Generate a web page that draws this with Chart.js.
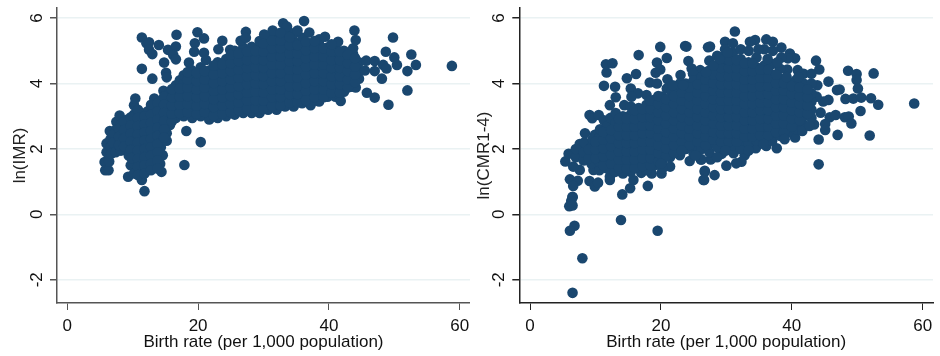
<!DOCTYPE html>
<html>
<head>
<meta charset="utf-8">
<script src="https://cdn.jsdelivr.net/npm/chart.js@4"></script>
<style>
  html, body { margin: 0; padding: 0; background: #fff; }
  canvas { position: absolute; top: 0; }
</style>
</head>
<body>
<canvas id="imrChart" width="470" height="356" style="left:0"></canvas>
<canvas id="cmrChart" width="470" height="356" style="left:470px"></canvas>
<script>
const xTicks = [0, 20, 40, 60];
const yTicks = [-2, 0, 2, 4, 6];

// [birth rate, ln(IMR)]
const imrPoints = [
  [5.7,1.6],[5.8,1.35],[6.3,1.35],[6.4,1.62],[6,2.17],[6,1.9],[6.5,2.55],[6.6,2.3],[6.6,2.05],[6.7,1.85],
  [7.5,2.83],[7.5,2.6],[7.4,2.35],[7.5,2.1],[7.4,1.9],[8,3.02],[8.2,2.75],[8.2,2.5],[8.3,2.25],[8.2,1.95],
  [9.2,2.9],[9.2,2.65],[9.1,2.4],[9.3,2.15],[9.4,1.8],[9.3,1.15],[9.7,1.5],[10.2,3.34],[10.4,3.54],[10.2,3.05],
  [10.2,2.8],[10.2,2.55],[10.2,2.3],[10.2,2.05],[10.2,1.8],[10.2,1.55],[10.2,1.25],[11.3,3.1],[11.3,2.85],[11.3,2.6],
  [11.3,2.35],[11.3,2.1],[11.3,1.85],[11.3,1.6],[11.3,1.35],[11.4,1.05],[11.8,0.71],[12.3,3.15],[12.3,2.9],[12.3,2.65],
  [12.3,2.4],[12.3,2.15],[12.3,1.9],[12.3,1.65],[12.3,1.4],[13.3,3.54],[13.3,3.25],[13.3,3],[13.3,2.75],[13.3,2.5],
  [13.3,2.25],[13.3,2],[13.3,1.75],[13.3,1.5],[14.4,3.3],[14.3,3.05],[14.3,2.8],[14.3,2.55],[14.3,2.3],[14.3,2.05],
  [14.6,1.81],[14.2,1.55],[14.4,1.3],[14.7,3.78],[15.2,2.48],[15.2,2.25],[15.7,2.73],[15.3,2.95],[15.3,3.2],[15.3,3.45],
  [15.6,3.7],[16.6,2.95],[16.6,3.2],[16.6,3.45],[16.6,3.7],[16.6,3.95],[17.2,4.1],[17.8,3],[17.8,3.25],[17.8,3.5],
  [17.8,3.75],[17.8,4],[17.8,4.25],[19.1,2.95],[19.1,3.15],[19.1,3.4],[19.1,3.65],[19.1,3.9],[19.1,4.15],[19,4.41],
  [20.4,3],[20.4,3.25],[20.4,3.5],[20.4,3.75],[20.4,4],[20.4,4.25],[20.4,4.5],[21.7,2.9],[21.7,3.15],[21.7,3.4],
  [21.7,3.65],[21.7,3.9],[21.7,4.15],[21.7,4.4],[23,2.95],[23,3.2],[23,3.45],[23,3.7],[23,3.95],[23,4.2],
  [23,4.45],[23,4.65],[24.3,3],[24.3,3.25],[24.3,3.5],[24.3,3.75],[24.3,4],[24.3,4.25],[24.3,4.5],[24.3,4.75],
  [25.6,3.05],[25.6,3.3],[25.6,3.55],[25.6,3.8],[25.6,4.05],[25.6,4.3],[25.6,4.55],[25.6,4.8],[25.6,5],[26.9,3.1],
  [26.9,3.35],[26.9,3.6],[26.9,3.85],[26.9,4.1],[26.9,4.35],[26.9,4.6],[26.9,4.85],[26.9,5.1],[28.2,3.1],[28.2,3.38],
  [28.2,3.62],[28.2,3.88],[28.2,4.12],[28.2,4.38],[28.2,4.62],[28.2,4.88],[28.2,5.12],[29.4,3.1],[29.4,3.35],[29.4,3.6],
  [29.4,3.85],[29.4,4.1],[29.4,4.35],[29.4,4.6],[29.4,4.85],[29.4,5.1],[29.4,5.3],[30.7,3.2],[30.7,3.45],[30.7,3.7],
  [30.7,3.95],[30.7,4.2],[30.7,4.45],[30.7,4.7],[30.7,4.95],[30.7,5.2],[30.5,5.45],[32,3.2],[32,3.45],[32,3.7],
  [32,3.95],[32,4.2],[32,4.45],[32,4.7],[32,4.95],[32,5.2],[32,5.45],[31.4,5.62],[33.3,3.3],[33.3,3.55],
  [33.3,3.8],[33.3,4.05],[33.3,4.3],[33.3,4.55],[33.3,4.8],[33.3,5.05],[33.3,5.3],[33.5,5.6],[33,5.84],[33.6,5.74],
  [34.6,3.3],[34.6,3.55],[34.6,3.8],[34.6,4.05],[34.6,4.3],[34.6,4.55],[34.6,4.8],[34.6,5.05],[34.6,5.3],[34.8,5.55],
  [35.9,3.4],[35.9,3.65],[35.9,3.9],[35.9,4.15],[35.9,4.4],[35.9,4.65],[35.9,4.9],[35.9,5.15],[36,5.4],[36.2,5.91],
  [37.2,3.34],[37.2,3.65],[37.2,3.9],[37.2,4.15],[37.2,4.4],[37.2,4.65],[37.2,4.9],[37.2,5.15],[37,5.56],[38.5,3.45],
  [38.5,3.7],[38.5,3.95],[38.5,4.2],[38.5,4.45],[38.5,4.7],[38.5,4.95],[38.5,5.2],[38.5,5.35],[39.8,3.6],[39.8,3.85],
  [39.8,4.1],[39.8,4.35],[39.8,4.6],[39.8,4.85],[39.8,5.1],[39.4,5.43],[41,3.6],[41.8,3.47],[41,3.85],[41,4.1],
  [41,4.35],[41,4.6],[41,4.85],[41,5.1],[41.4,5.28],[42.3,3.75],[42.3,4],[42.3,4.25],[42.3,4.5],[42.3,4.75],
  [42.3,5],[43.5,3.9],[43.5,4.15],[43.5,4.4],[43.5,4.65],[43.7,4.9],[43.7,5.08],[43.9,5.62],[44.1,5.33],[44.6,4.15],
  [44.6,4.4],[44.6,4.65],[44.1,3.88],[45.7,4.7],[45.5,4.4],[45.8,3.72],[47,4.69],[47,4.38],[47,3.57],[48.3,4.57],
  [48.1,4.15],[48.7,4.97],[48.8,4.46],[49.1,3.35],[49.8,5.41],[50,4.8],[50.4,4.57],[52,4.38],[52,3.79],[52.6,4.89],
  [53.3,4.57],[58.8,4.54],[18.2,2.55],[20.4,2.21],[17.9,1.51],[11.4,5.41],[12.1,5.23],[12.5,5.26],[12.5,5.03],[13,4.9],
  [14,5.18],[16.7,5.49],[15.4,5.03],[16.6,5.13],[16.2,4.87],[16.6,4.74],[14.8,4.64],[11.4,4.45],[13,4.15],[15.1,4.33],
  [15.2,4.19],[19.9,5.57],[20.9,5.38],[19.5,5.23],[19.4,4.97],[20.9,4.94],[21.2,4.72],[18.6,4.64],[23.7,5.31],[23.1,5.05],
  [27.3,5.58],[26.5,5.31],[24.9,5.03],[27.3,5.4],[30.1,5.5],
  // dots filling the solid part of the band
  [7,2.45],[7,2.2],[7.9,2.62],[7.9,2.37],[7.9,2.12],[8.7,2.83],[8.7,2.58],[8.7,2.33],[8.7,2.08],[9.7,2.97],
  [9.7,2.72],[9.7,2.47],[9.7,2.22],[9.7,1.97],[9.8,1.72],[10.8,3.2],[10.8,2.95],[10.8,2.7],[10.8,2.45],[10.8,2.2],
  [10.8,1.95],[10.8,1.7],[10.8,1.45],[10.8,1.2],[11.8,3],[11.8,2.75],[11.8,2.5],[11.8,2.25],[11.8,2],[11.8,1.75],
  [11.8,1.5],[11.8,1.25],[12.8,3.35],[12.8,3.05],[12.8,2.8],[12.8,2.55],[12.8,2.3],[12.8,2.05],[12.8,1.8],[12.8,1.55],
  [12.8,1.35],[13.8,3.4],[13.8,3.15],[13.8,2.9],[13.8,2.65],[13.8,2.4],[13.8,2.15],[13.8,1.9],[13.8,1.65],[13.8,1.4],
  [14.8,3.6],[14.8,3.35],[14.8,3.1],[14.8,2.85],[14.8,2.6],[14.8,2.35],[16,2.85],[16,3.08],[16,3.33],[16,3.58],
  [16,3.83],[17.2,3.1],[17.2,3.35],[17.2,3.6],[17.2,3.85],[18.4,3.12],[18.4,3.38],[18.4,3.62],[18.4,3.88],[18.4,4.12],
  [18.4,4.35],[19.8,3.08],[19.8,3.32],[19.8,3.58],[19.8,3.82],[19.8,4.08],[19.8,4.32],[21,3.12],[21,3.38],[21,3.62],
  [21,3.88],[21,4.12],[21,4.38],[22.4,3.02],[22.4,3.28],[22.4,3.52],[22.4,3.78],[22.4,4.02],[22.4,4.28],[22.4,4.55],
  [23.7,3.08],[23.7,3.32],[23.7,3.58],[23.7,3.82],[23.7,4.08],[23.7,4.32],[23.7,4.58],[25,3.12],[25,3.38],[25,3.62],
  [25,3.88],[25,4.12],[25,4.38],[25,4.62],[25,4.88],[26.2,3.18],[26.2,3.42],[26.2,3.68],[26.2,3.92],[26.2,4.18],
  [26.2,4.42],[26.2,4.68],[26.2,4.92],[27.5,3.22],[27.5,3.48],[27.5,3.72],[27.5,3.98],[27.5,4.22],[27.5,4.48],[27.5,4.72],
  [27.5,4.98],[28.8,3.25],[28.8,3.5],[28.8,3.75],[28.8,4],[28.8,4.25],[28.8,4.5],[28.8,4.75],[28.8,5],[30,3.22],
  [30,3.48],[30,3.72],[30,3.98],[30,4.22],[30,4.48],[30,4.72],[30,4.98],[30,5.22],[31.3,3.32],[31.3,3.58],
  [31.3,3.82],[31.3,4.08],[31.3,4.32],[31.3,4.58],[31.3,4.82],[31.3,5.08],[31.3,5.32],[32.6,3.32],[32.6,3.58],[32.6,3.82],
  [32.6,4.08],[32.6,4.32],[32.6,4.58],[32.6,4.82],[32.6,5.08],[32.6,5.32],[32.6,5.55],[34,3.42],[34,3.68],[34,3.92],
  [34,4.18],[34,4.42],[34,4.68],[34,4.92],[34,5.18],[34,5.42],[35.2,3.42],[35.2,3.68],[35.2,3.92],[35.2,4.18],
  [35.2,4.42],[35.2,4.68],[35.2,4.92],[35.2,5.18],[35.2,5.62],[36.5,3.5],[36.5,3.78],[36.5,4.02],[36.5,4.28],[36.5,4.52],
  [36.5,4.78],[36.5,5.02],[36.5,5.28],[37.8,3.58],[37.8,3.82],[37.8,4.08],[37.8,4.32],[37.8,4.58],[37.8,4.82],[37.8,5.08],
  [37.8,5.3],[39.2,3.58],[39.2,3.82],[39.2,4.08],[39.2,4.32],[39.2,4.58],[39.2,4.82],[39.2,5.08],[40.4,3.72],[40.4,3.98],
  [40.4,4.22],[40.4,4.48],[40.4,4.72],[40.4,4.98],[40.4,5.2],[41.7,3.72],[41.7,3.98],[41.7,4.22],[41.7,4.48],[41.7,4.72],
  [41.7,4.98],[42.9,3.88],[42.9,4.12],[42.9,4.38],[42.9,4.62],[42.9,4.88],[44,4.05],[44,4.28],[44,4.52],[44,4.78]
];

// [birth rate, ln(CMR1-4)]
const cmrPoints = [
  [5.4,1.62],[5.9,1.85],[6.5,0.54],[6.1,1.07],[7.3,1.03],[6.6,0.87],[9.1,1.02],[9.9,0.85],[10.4,0.97],[12.2,1.05],
  [14.1,0.61],[15.3,0.8],[18,0.87],[15.8,1.05],[9.1,3.04],[9.5,2.94],[10.5,3.04],[11.3,2.88],[8.4,2.48],[9.9,2.43],
  [7.6,2.15],[11.3,3.93],[11.7,4.34],[11.6,4.59],[12.6,4.62],[13,3.9],[14.8,4.16],[13.1,3.58],[12.2,3.34],[14.4,3.34],
  [16.2,4.29],[16.6,4.87],[15.4,3.85],[16.5,3.7],[15.5,3.6],[18.3,4.03],[19.4,4.64],[19.9,4.43],[19.2,4.33],[19.9,5.12],
  [20.9,4.78],[19.4,4],[21,4.13],[20.9,3.85],[23,4.26],[23.7,5.15],[23.9,5.13],[24.2,4.69],[24.7,4.46],[26,4.41],
  [27.2,5.11],[24.9,4.31],[22.9,4],[25.2,3.95],[24.4,1.63],[26.1,1.68],[26.7,1.3],[26.6,1.05],[22.9,1.81],[21.4,1.46],
  [20.1,1.25],[18.6,1.25],[17,1.27],[14.2,1.25],[12.2,1.15],[9.7,1.36],[7.6,1.36],[6.6,1.46],[31.3,5.59],[34.4,5.33],
  [36.1,5.35],[37.1,5.28],[38.4,5.1],[39.7,4.92],[40.5,4.77],[39.4,4.77],[43.7,4.7],[44.2,4.43],[39.3,4.43],[40.9,4.41],
  [27.5,5.13],[29.8,5.28],[31,5.23],[33.6,5.28],[48.6,4.39],[49.9,4.29],[52.5,4.31],[49.9,4.11],[50.1,3.85],[45.6,4.06],
  [46.9,3.8],[47.3,3.82],[43.9,3.95],[48.2,3.53],[49.4,3.54],[50.6,3.57],[52.1,3.55],[53.2,3.35],[58.7,3.39],[50.5,3.16],
  [45.6,3.5],[44.8,3.45],[43.8,3.6],[44.4,3.11],[45.8,2.97],[46.7,3.04],[48.1,2.97],[48.7,2.99],[49.1,2.78],[45.1,2.76],
  [45.1,2.58],[43.4,2.75],[47,2.43],[51.9,2.41],[44.1,2.29],[44.1,1.53],[40.5,2.35],[37.7,2.02],[36.1,2.09],[34.5,2.02],
  [32.8,1.81],[32.3,1.61],[31.5,1.56],[30,1.49],[28.2,1.2],[26.7,1.33],[26.5,1.05],[27.6,1.68],[26.2,1.68],[29.3,1.85],
  [31.1,1.87],[6.5,0.52],[6.3,0.41],[6,0.25],[6.5,0.27],[6.8,-0.35],[6.1,-0.5],[13.9,-0.17],[19.5,-0.5],[8,-1.34],
  [6.5,-2.4],
  [7,1.75],[7,2],[8.2,1.65],[8.2,1.9],[8.3,2.2],[9.4,1.55],[9.4,1.8],[9.4,2.05],[9.6,2.3],[10.6,1.35],
  [10.6,1.6],[10.6,1.85],[10.6,2.1],[10.6,2.35],[10.7,2.6],[11.8,1.4],[11.8,1.7],[11.8,1.95],[11.8,2.2],[11.8,2.45],
  [11.8,2.7],[12.3,2.95],[13,1.3],[13,1.55],[13,1.8],[13,2.05],[13,2.3],[13,2.55],[13.1,2.8],[13.1,3.1],
  [14.2,1.5],[14.2,1.75],[14.2,2],[14.2,2.25],[14.2,2.5],[14.2,2.75],[14.2,3],[15.4,1.3],[15.4,1.55],[15.4,1.8],
  [15.4,2.05],[15.4,2.3],[15.4,2.55],[15.4,2.8],[15.4,3.05],[15.4,3.3],[16.6,1.5],[16.6,1.75],[16.6,2],[16.6,2.25],
  [16.6,2.5],[16.6,2.75],[16.6,3],[16.6,3.25],[17.8,1.35],[17.8,1.6],[17.8,1.85],[17.8,2.1],[17.8,2.35],[17.8,2.6],
  [17.8,2.85],[17.8,3.1],[17.8,3.35],[17.8,3.65],[19,1.5],[19,1.75],[19,2],[19,2.25],[19,2.5],[19,2.75],
  [19,3],[19,3.25],[19,3.5],[20.2,1.4],[20.2,1.65],[20.2,1.9],[20.2,2.15],[20.2,2.4],[20.2,2.65],[20.2,2.9],
  [20.2,3.15],[20.2,3.4],[20.2,3.6],[21.4,1.75],[21.4,2],[21.4,2.25],[21.4,2.5],[21.4,2.75],[21.4,3],[21.4,3.25],
  [21.4,3.5],[21.6,3.75],[22.6,2.1],[22.6,2.35],[22.6,2.6],[22.6,2.85],[22.6,3.1],[22.6,3.35],[22.6,3.6],[22.6,3.85],
  [23.8,2],[23.8,2.25],[23.8,2.5],[23.8,2.75],[23.8,3],[23.8,3.25],[23.8,3.5],[23.8,3.75],[23.8,4],[25,1.85],
  [25,2.1],[25,2.35],[25,2.6],[25,2.85],[25,3.1],[25,3.35],[25,3.6],[25,3.85],[25,4.1],[26.2,2],
  [26.2,2.25],[26.2,2.5],[26.2,2.75],[26.2,3],[26.2,3.25],[26.2,3.5],[26.2,3.75],[26.2,4],[26.2,4.2],[27.4,1.9],
  [27.4,2.15],[27.4,2.4],[27.4,2.65],[27.4,2.9],[27.4,3.15],[27.4,3.4],[27.4,3.65],[27.4,3.9],[27.4,4.15],[27.4,4.4],
  [27.4,4.7],[28.6,1.75],[28.6,2.05],[28.6,2.3],[28.6,2.55],[28.6,2.8],[28.6,3.05],[28.6,3.3],[28.6,3.55],[28.6,3.8],
  [28.6,4.05],[28.6,4.3],[28.6,4.55],[28.6,4.85],[29.8,2.1],[29.8,2.35],[29.8,2.6],[29.8,2.85],[29.8,3.1],[29.8,3.35],
  [29.8,3.6],[29.8,3.85],[29.8,4.1],[29.8,4.35],[29.8,4.6],[29.8,4.85],[29.8,5.05],[31,2.1],[31,2.35],[31,2.6],
  [31,2.85],[31,3.1],[31,3.35],[31,3.6],[31,3.85],[31,4.1],[31,4.35],[31,4.6],[31,4.95],[32.2,2],
  [32.2,2.25],[32.2,2.5],[32.2,2.75],[32.2,3],[32.2,3.25],[32.2,3.5],[32.2,3.75],[32.2,4],[32.2,4.25],[32.2,4.5],
  [32.2,4.75],[32.2,5.05],[33.4,2.15],[33.4,2.4],[33.4,2.65],[33.4,2.9],[33.4,3.15],[33.4,3.4],[33.4,3.65],[33.4,3.9],
  [33.4,4.15],[33.4,4.4],[33.4,4.65],[33.4,5],[34.6,2.25],[34.6,2.5],[34.6,2.75],[34.6,3],[34.6,3.25],[34.6,3.5],
  [34.6,3.75],[34.6,4],[34.6,4.25],[34.6,4.5],[34.6,4.8],[35.8,2.3],[35.8,2.55],[35.8,2.8],[35.8,3.05],[35.8,3.3],
  [35.8,3.55],[35.8,3.8],[35.8,4.05],[35.8,4.3],[35.8,4.55],[35.8,5.05],[37,2.25],[37,2.5],[37,2.75],[37,3],
  [37,3.25],[37,3.5],[37,3.75],[37,4],[37,4.25],[37,4.6],[37.1,5],[38.2,2.4],[38.2,2.65],[38.2,2.9],
  [38.2,3.15],[38.2,3.4],[38.2,3.65],[38.2,3.9],[38.2,4.15],[38.2,4.45],[38.4,4.8],[39.4,2.5],[39.4,2.75],[39.4,3],
  [39.4,3.25],[39.4,3.5],[39.4,3.75],[39.4,4],[40.6,2.6],[40.6,2.85],[40.6,3.1],[40.6,3.35],[40.6,3.6],[40.6,3.85],
  [40.6,4.1],[41.8,2.75],[41.8,3],[41.8,3.25],[41.8,3.5],[41.8,3.75],[41.8,4],[41.8,4.3],[43,2.95],[43,3.2],
  [43,3.45],[43,3.7],[43,4],[43,4.3],
  // dots filling the solid part of the cloud
  [9,1.72],[9,1.98],[10,1.72],[10,1.98],[10,2.22],[11.2,1.5],[11.2,1.78],[11.2,2.02],[11.2,2.28],[11.2,2.52],
  [12.4,1.55],[12.4,1.82],[12.4,2.08],[12.4,2.32],[12.4,2.58],[13.6,1.42],[13.6,1.68],[13.6,1.92],[13.6,2.18],[13.6,2.42],
  [13.6,2.68],[13.6,2.92],[14.8,1.4],[14.8,1.68],[14.8,1.92],[14.8,2.18],[14.8,2.42],[14.8,2.68],[14.8,2.92],[16,1.42],
  [16,1.68],[16,1.92],[16,2.18],[16,2.42],[16,2.68],[16,2.92],[16,3.18],[17.2,1.48],[17.2,1.72],[17.2,1.98],
  [17.2,2.22],[17.2,2.48],[17.2,2.72],[17.2,2.98],[17.2,3.22],[18.4,1.5],[18.4,1.72],[18.4,1.98],[18.4,2.22],[18.4,2.48],
  [18.4,2.72],[18.4,2.98],[18.4,3.22],[18.4,3.48],[19.6,1.62],[19.6,1.88],[19.6,2.12],[19.6,2.38],[19.6,2.62],[19.6,2.88],
  [19.6,3.12],[19.6,3.38],[19.6,3.62],[20.8,1.78],[20.8,2.02],[20.8,2.28],[20.8,2.52],[20.8,2.78],[20.8,3.02],[20.8,3.28],
  [20.8,3.52],[22,1.88],[22,2.12],[22,2.38],[22,2.62],[22,2.88],[22,3.12],[22,3.38],[22,3.62],[23.2,2.22],
  [23.2,2.48],[23.2,2.72],[23.2,2.98],[23.2,3.22],[23.2,3.48],[23.2,3.72],[24.4,2.12],[24.4,2.38],[24.4,2.62],[24.4,2.88],
  [24.4,3.12],[24.4,3.38],[24.4,3.62],[24.4,3.88],[25.6,2.22],[25.6,2.48],[25.6,2.72],[25.6,2.98],[25.6,3.22],[25.6,3.48],
  [25.6,3.72],[25.6,3.98],[26.8,2.12],[26.8,2.38],[26.8,2.62],[26.8,2.88],[26.8,3.12],[26.8,3.38],[26.8,3.62],[26.8,3.88],
  [26.8,4.12],[28,2.28],[28,2.52],[28,2.78],[28,3.02],[28,3.28],[28,3.52],[28,3.78],[28,4.02],[28,4.28],
  [29.2,2.22],[29.2,2.48],[29.2,2.72],[29.2,2.98],[29.2,3.22],[29.2,3.48],[29.2,3.72],[29.2,3.98],[29.2,4.22],[29.2,4.48],
  [30.4,2.22],[30.4,2.48],[30.4,2.72],[30.4,2.98],[30.4,3.22],[30.4,3.48],[30.4,3.72],[30.4,3.98],[30.4,4.22],[30.4,4.48],
  [30.4,4.72],[31.6,2.22],[31.6,2.48],[31.6,2.72],[31.6,2.98],[31.6,3.22],[31.6,3.48],[31.6,3.72],[31.6,3.98],[31.6,4.22],
  [31.6,4.48],[31.6,4.72],[32.8,2.38],[32.8,2.62],[32.8,2.88],[32.8,3.12],[32.8,3.38],[32.8,3.62],[32.8,3.88],[32.8,4.12],
  [32.8,4.38],[32.8,4.62],[34,2.38],[34,2.62],[34,2.88],[34,3.12],[34,3.38],[34,3.62],[34,3.88],[34,4.12],
  [34,4.38],[34,4.62],[35.2,2.42],[35.2,2.68],[35.2,2.92],[35.2,3.18],[35.2,3.42],[35.2,3.68],[35.2,3.92],[35.2,4.18],
  [35.2,4.42],[36.4,2.42],[36.4,2.68],[36.4,2.92],[36.4,3.18],[36.4,3.42],[36.4,3.68],[36.4,3.92],[36.4,4.18],[36.4,4.42],
  [37.6,2.52],[37.6,2.78],[37.6,3.02],[37.6,3.28],[37.6,3.52],[37.6,3.78],[37.6,4.02],[37.6,4.28],[38.8,2.52],[38.8,2.78],
  [38.8,3.02],[38.8,3.28],[38.8,3.52],[38.8,3.78],[38.8,4.02],[40,2.68],[40,2.92],[40,3.18],[40,3.42],[40,3.68],
  [40,3.92],[41.2,2.88],[41.2,3.12],[41.2,3.38],[41.2,3.62],[41.2,3.88],[42.4,3.08],[42.4,3.32],[42.4,3.58],[42.4,3.82],
  // upper and lower fringe dots of the cloud
  [21.8,3.95],[23.4,3.95],[26.9,4.35],[28,4.55],[29,4.75],[30.2,4.95],[34.9,5.05],[36.3,4.75],[37.8,4.65],[39.2,4.2],
  [41,4.2],[20,1.55],[23.2,1.95],[25.3,1.8],[29.9,1.95],[33.4,1.95],[35.7,2.15],[38.9,2.3],[41.6,2.55],[42.7,2.7]
];

function panel(id, points, yTitle, axisColor, plotLeft, plotRight, xMin, xMax, titlePad) {
  return new Chart(document.getElementById(id), {
    type: 'scatter',
    data: {
      datasets: [{
        data: points.map(p => ({ x: p[0], y: p[1] })),
        backgroundColor: '#1a476f',
        borderWidth: 0,
        pointRadius: 5.3
      }]
    },
    options: {
      responsive: false,
      animation: false,
      layout: { autoPadding: false, padding: { top: 8, right: 470 - plotRight, left: 0, bottom: 0 } },
      plugins: { legend: { display: false }, tooltip: { enabled: false } },
      scales: {
        x: {
          type: 'linear',
          min: xMin,
          max: xMax,
          afterBuildTicks: s => { s.ticks = xTicks.map(v => ({ value: v })); },
          afterFit: s => { s.height = 53; s.paddingLeft = 0; s.paddingRight = 0; },
          grid: { drawOnChartArea: false, tickColor: axisColor, tickLength: 7 },
          border: { color: axisColor, width: 1.5 },
          ticks: { color: '#111', padding: 6, maxRotation: 0, font: { family: 'Liberation Sans', size: 17 } },
          title: {
            display: true,
            text: 'Birth rate (per 1,000 population)',
            color: '#111',
            padding: { top: 0, bottom: 3 },
            font: { family: 'Liberation Sans', size: 17 }
          }
        },
        y: {
          type: 'linear',
          min: -2.71,
          max: 6.31,
          afterBuildTicks: s => { s.ticks = yTicks.map(v => ({ value: v })); },
          afterFit: s => { s.width = plotLeft; s.paddingTop = 0; s.paddingBottom = 0; },
          grid: { color: '#eaf2f3', lineWidth: 1.5, tickColor: axisColor, tickLength: 7 },
          border: { color: axisColor, width: 1.5 },
          ticks: {
            color: '#111',
            padding: 5,
            minRotation: 90,
            maxRotation: 90,
            crossAlign: 'center',
            font: { family: 'Liberation Sans', size: 17 }
          },
          title: {
            display: true,
            text: yTitle,
            color: '#222',
            padding: { top: titlePad, bottom: 0 },
            font: { family: 'Liberation Sans', size: 17 }
          }
        }
      }
    }
  });
}

panel('imrChart', imrPoints, 'ln(IMR)', '#555', 57, 470, -1.575, 61.57, 10);
panel('cmrChart', cmrPoints, 'ln(CMR1-4)', '#222', 49.3, 463, -1.635, 61.57, 4);
</script>
</body>
</html>
